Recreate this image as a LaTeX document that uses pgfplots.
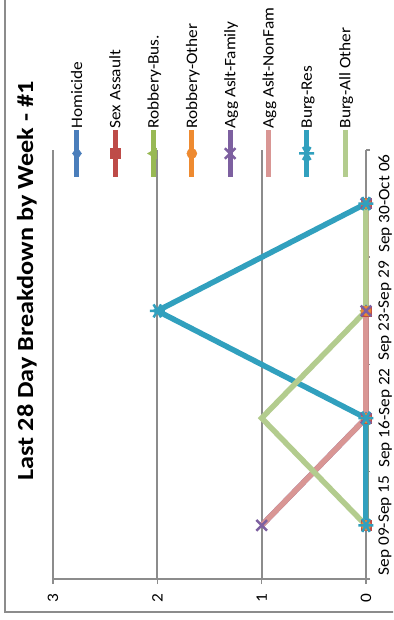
\documentclass[border=0pt]{standalone}
\usepackage{fontspec}
\setmainfont{Carlito}[FakeStretch=1.08]
\newfontfamily\titlefont{Carlito}[FakeStretch=1.14]
\usepackage{pgfplots}
\pgfplotsset{compat=1.18}
\definecolor{gc}{HTML}{8C8C8C}
\definecolor{cHom}{HTML}{4A7EBB}
\definecolor{cSex}{HTML}{BE4B48}
\definecolor{cRbB}{HTML}{98B954}
\definecolor{cRbO}{HTML}{EE8A30}
\definecolor{cAgF}{HTML}{7D60A0}
\definecolor{cAgN}{HTML}{D99694}
\definecolor{cBgR}{HTML}{31A0BE}
\definecolor{cBgA}{HTML}{B3CC8E}
\pgfplotsset{
  sHom/.style={color=cHom, mark=diamond*, mark size=6pt, mark options={solid, line width=0.5pt}},
  sSex/.style={color=cSex, mark=square*, mark size=5pt, mark options={solid, line width=0.5pt}},
  sRbB/.style={color=cRbB, mark=triangle*, mark size=6pt, mark options={solid, line width=0.5pt, rotate=90}},
  sRbO/.style={color=cRbO, mark=*, mark size=5pt, mark options={solid, line width=0.5pt}},
  sAgF/.style={color=cAgF, mark=x, mark size=7.5pt, mark options={solid, line width=2.5pt}},
  sAgN/.style={color=cAgN, no marks},
  sBgR/.style={color=cBgR, mark=asterisk, mark size=7.5pt, mark options={solid, line width=2.5pt, rotate=90}},
  sBgA/.style={color=cBgA, no marks},
}
\tikzset{leg/.style={rotate=90, anchor=west, inner sep=1.5pt, text height=10.3pt, text depth=0pt, font=\fontsize{16}{16}\selectfont}}
\begin{document}
\begin{tikzpicture}
\clip (0pt,0pt) rectangle (393pt,620pt);
\fill[white] (0pt,0pt) rectangle (393pt,620pt);
\draw[gc, line width=2pt] (5pt,700pt) -- (5pt,8pt) -- (500pt,8pt);
\node[rotate=90, anchor=base, font=\fontsize{23}{23}\titlefont\bfseries] at (33pt,339pt) {Last 28 Day Breakdown by Week - \#1};
\begin{axis}[
  at={(53pt,41pt)}, anchor=south west,
  scale only axis, width=313pt, height=429pt,
  xmin=0, xmax=3, x dir=reverse,
  ymin=0.5, ymax=4.5,
  xtick={0,1,2,3},
  ytick={1,2,3,4},
  yticklabels={Sep 09-Sep 15, Sep 16-Sep 22, Sep 23-Sep 29, Sep 30-Oct 06},
  minor ytick={0.5,1.5,2.5,3.5,4.5},
  xmajorgrids, major grid style={gc, line width=2pt},
  axis line style={draw=none},
  tick align=outside,
  xtick pos=left, ytick pos=right,
  major tick length=5pt, minor tick length=4pt,
  tick style={gc, line width=1.5pt},
  every major y tick/.append style={draw=none},
  /pgf/number format/assume math mode=true,
  xticklabel style={rotate=90, anchor=east, font=\fontsize{16}{16}\selectfont},
  xticklabel shift=6pt,
  yticklabel style={rotate=90, anchor=north, font=\fontsize{16}{16}\selectfont},
  yticklabel shift=4pt,
  clip=false,
  every axis plot/.append style={line width=5.5pt},
]
\draw[gc, line width=2pt] (axis cs:3,0.5) -- (axis cs:0,0.5);
% data
\addplot[sHom] coordinates {(0,1) (0,2) (0,3) (0,4)};
\addplot[sSex] coordinates {(0,1) (0,2) (0,3) (0,4)};
\addplot[sRbB] coordinates {(0,1) (0,2) (0,3) (0,4)};
\addplot[sRbO] coordinates {(0,1) (0,2) (0,3) (0,4)};
\addplot[sAgF] coordinates {(1,1) (0,2) (0,3) (0,4)};
\addplot[sAgN] coordinates {(1,1) (0,2) (0,3) (0,4)};
\addplot[sBgR] coordinates {(0,1) (0,2) (2,3) (0,4)};
\addplot[sBgA] coordinates {(0,1) (1,2) (0,3) (0,4)};
% legend (rotated)
\addplot[sHom, line width=5pt, forget plot, mark indices={2}] coordinates {(2.770,4.2483) (2.770,4.4674) (2.770,4.6865)};
\node[leg] at (axis cs:2.770,4.6865) {Homicide};
\addplot[sSex, line width=5pt, forget plot, mark indices={2}] coordinates {(2.403,4.2483) (2.403,4.4674) (2.403,4.6865)};
\node[leg] at (axis cs:2.403,4.6865) {Sex Assault};
\addplot[sRbB, line width=5pt, forget plot, mark indices={2}] coordinates {(2.036,4.2483) (2.036,4.4674) (2.036,4.6865)};
\node[leg] at (axis cs:2.036,4.6865) {Robbery-Bus.};
\addplot[sRbO, line width=5pt, forget plot, mark indices={2}] coordinates {(1.669,4.2483) (1.669,4.4674) (1.669,4.6865)};
\node[leg] at (axis cs:1.669,4.6865) {Robbery-Other};
\addplot[sAgF, line width=5pt, forget plot, mark indices={2}] coordinates {(1.302,4.2483) (1.302,4.4674) (1.302,4.6865)};
\node[leg] at (axis cs:1.302,4.6865) {Agg Aslt-Family};
\addplot[sAgN, line width=5pt, forget plot] coordinates {(0.935,4.2483) (0.935,4.4674) (0.935,4.6865)};
\node[leg] at (axis cs:0.935,4.6865) {Agg Aslt-NonFam};
\addplot[sBgR, line width=5pt, forget plot, mark indices={2}] coordinates {(0.568,4.2483) (0.568,4.4674) (0.568,4.6865)};
\node[leg] at (axis cs:0.568,4.6865) {Burg-Res};
\addplot[sBgA, line width=5pt, forget plot] coordinates {(0.200,4.2483) (0.200,4.4674) (0.200,4.6865)};
\node[leg] at (axis cs:0.200,4.6865) {Burg-All Other};
\end{axis}
\end{tikzpicture}
\end{document}
